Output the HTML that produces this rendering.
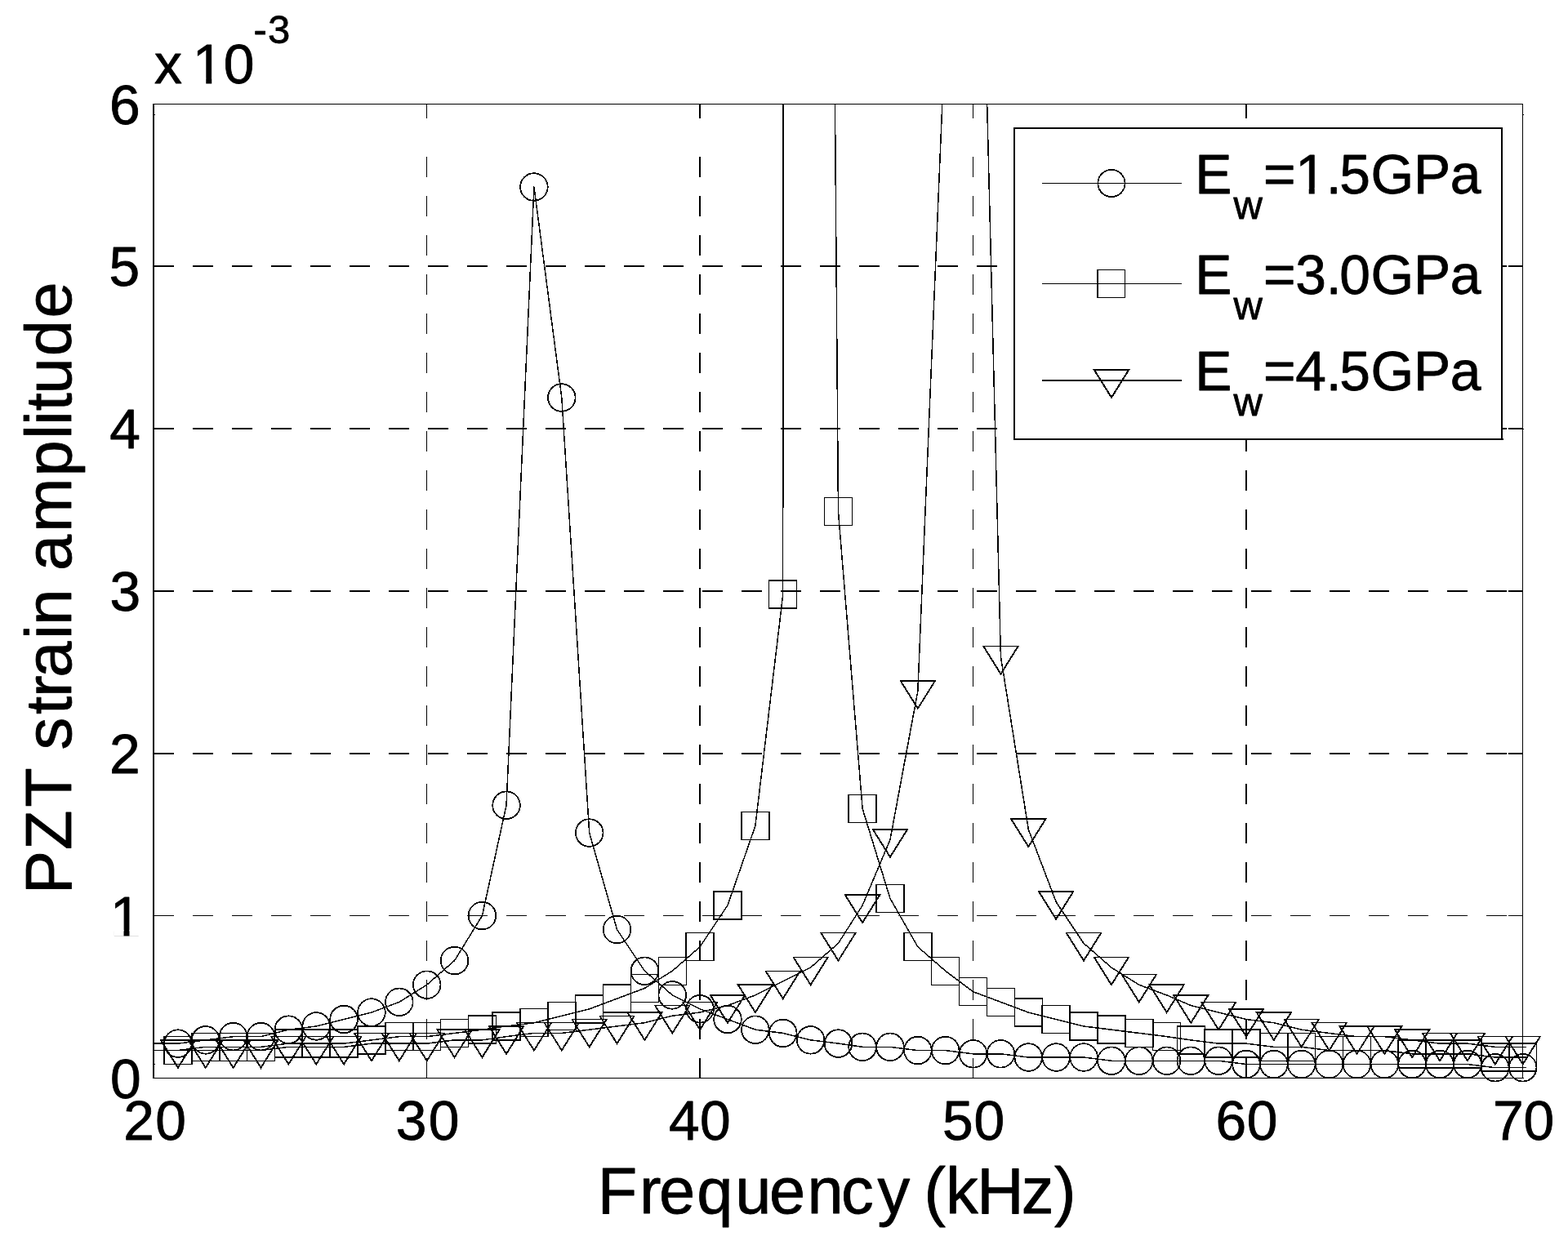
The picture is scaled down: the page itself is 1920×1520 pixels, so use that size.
<!DOCTYPE html>
<html lang="en"><head><meta charset="utf-8"><title>PZT strain amplitude vs Frequency</title>
<style>html,body{margin:0;padding:0;background:#fff;}svg{display:block;}text{font-family:"Liberation Sans",sans-serif;fill:#000;}</style></head><body>
<svg width="1920" height="1520" viewBox="0 0 1920 1520">
<rect x="0" y="0" width="1920" height="1520" fill="#fff"/>
<defs><clipPath id="ax"><rect x="187" y="127" width="1682" height="1194"/></clipPath></defs>
<g fill="#000" stroke="none" shape-rendering="crispEdges">
<path d="M188 325h25v2h-25zM236 325h25v2h-25zM284 325h25v2h-25zM332 325h25v2h-25zM380 325h25v2h-25zM428 325h25v2h-25zM476 325h25v2h-25zM524 325h25v2h-25zM572 325h25v2h-25zM620 325h25v2h-25zM668 325h25v2h-25zM716 325h25v2h-25zM764 325h25v2h-25zM812 325h25v2h-25zM860 325h25v2h-25zM908 325h25v2h-25zM956 325h25v2h-25zM1004 325h25v2h-25zM1052 325h25v2h-25zM1100 325h25v2h-25zM1148 325h25v2h-25zM1196 325h25v2h-25zM1244 325h25v2h-25zM1292 325h25v2h-25zM1340 325h25v2h-25zM1388 325h25v2h-25zM1436 325h25v2h-25zM1484 325h25v2h-25zM1532 325h25v2h-25zM1580 325h25v2h-25zM1628 325h25v2h-25zM1676 325h25v2h-25zM1724 325h25v2h-25zM1772 325h25v2h-25zM1820 325h25v2h-25zM1847 325h18v2h-18z"/>
<path d="M188 524h25v2h-25zM236 524h25v2h-25zM284 524h25v2h-25zM332 524h25v2h-25zM380 524h25v2h-25zM428 524h25v2h-25zM476 524h25v2h-25zM524 524h25v2h-25zM572 524h25v2h-25zM620 524h25v2h-25zM668 524h25v2h-25zM716 524h25v2h-25zM764 524h25v2h-25zM812 524h25v2h-25zM860 524h25v2h-25zM908 524h25v2h-25zM956 524h25v2h-25zM1004 524h25v2h-25zM1052 524h25v2h-25zM1100 524h25v2h-25zM1148 524h25v2h-25zM1196 524h25v2h-25zM1244 524h25v2h-25zM1292 524h25v2h-25zM1340 524h25v2h-25zM1388 524h25v2h-25zM1436 524h25v2h-25zM1484 524h25v2h-25zM1532 524h25v2h-25zM1580 524h25v2h-25zM1628 524h25v2h-25zM1676 524h25v2h-25zM1724 524h25v2h-25zM1772 524h25v2h-25zM1820 524h25v2h-25zM1847 524h18v2h-18z"/>
<path d="M188 723h25v2h-25zM236 723h25v2h-25zM284 723h25v2h-25zM332 723h25v2h-25zM380 723h25v2h-25zM428 723h25v2h-25zM476 723h25v2h-25zM524 723h25v2h-25zM572 723h25v2h-25zM620 723h25v2h-25zM668 723h25v2h-25zM716 723h25v2h-25zM764 723h25v2h-25zM812 723h25v2h-25zM860 723h25v2h-25zM908 723h25v2h-25zM956 723h25v2h-25zM1004 723h25v2h-25zM1052 723h25v2h-25zM1100 723h25v2h-25zM1148 723h25v2h-25zM1196 723h25v2h-25zM1244 723h25v2h-25zM1292 723h25v2h-25zM1340 723h25v2h-25zM1388 723h25v2h-25zM1436 723h25v2h-25zM1484 723h25v2h-25zM1532 723h25v2h-25zM1580 723h25v2h-25zM1628 723h25v2h-25zM1676 723h25v2h-25zM1724 723h25v2h-25zM1772 723h25v2h-25zM1820 723h25v2h-25zM1847 723h18v2h-18z"/>
<path d="M188 922h25v2h-25zM236 922h25v2h-25zM284 922h25v2h-25zM332 922h25v2h-25zM380 922h25v2h-25zM428 922h25v2h-25zM476 922h25v2h-25zM524 922h25v2h-25zM572 922h25v2h-25zM620 922h25v2h-25zM668 922h25v2h-25zM716 922h25v2h-25zM764 922h25v2h-25zM812 922h25v2h-25zM860 922h25v2h-25zM908 922h25v2h-25zM956 922h25v2h-25zM1004 922h25v2h-25zM1052 922h25v2h-25zM1100 922h25v2h-25zM1148 922h25v2h-25zM1196 922h25v2h-25zM1244 922h25v2h-25zM1292 922h25v2h-25zM1340 922h25v2h-25zM1388 922h25v2h-25zM1436 922h25v2h-25zM1484 922h25v2h-25zM1532 922h25v2h-25zM1580 922h25v2h-25zM1628 922h25v2h-25zM1676 922h25v2h-25zM1724 922h25v2h-25zM1772 922h25v2h-25zM1820 922h25v2h-25zM1847 922h18v2h-18z"/>
<path d="M188 1121h25v1h-25zM236 1121h25v1h-25zM284 1121h25v1h-25zM332 1121h25v1h-25zM380 1121h25v1h-25zM428 1121h25v1h-25zM476 1121h25v1h-25zM524 1121h25v1h-25zM572 1121h25v1h-25zM620 1121h25v1h-25zM668 1121h25v1h-25zM716 1121h25v1h-25zM764 1121h25v1h-25zM812 1121h25v1h-25zM860 1121h25v1h-25zM908 1121h25v1h-25zM956 1121h25v1h-25zM1004 1121h25v1h-25zM1052 1121h25v1h-25zM1100 1121h25v1h-25zM1148 1121h25v1h-25zM1196 1121h25v1h-25zM1244 1121h25v1h-25zM1292 1121h25v1h-25zM1340 1121h25v1h-25zM1388 1121h25v1h-25zM1436 1121h25v1h-25zM1484 1121h25v1h-25zM1532 1121h25v1h-25zM1580 1121h25v1h-25zM1628 1121h25v1h-25zM1676 1121h25v1h-25zM1724 1121h25v1h-25zM1772 1121h25v1h-25zM1820 1121h25v1h-25zM1847 1121h18v1h-18z"/>
<path d="M522 1296h1v25h-1zM522 1248h1v25h-1zM522 1200h1v25h-1zM522 1152h1v25h-1zM522 1104h1v25h-1zM522 1056h1v25h-1zM522 1008h1v25h-1zM522 960h1v25h-1zM522 912h1v25h-1zM522 864h1v25h-1zM522 816h1v25h-1zM522 768h1v25h-1zM522 720h1v25h-1zM522 672h1v25h-1zM522 624h1v25h-1zM522 576h1v25h-1zM522 528h1v25h-1zM522 480h1v25h-1zM522 432h1v25h-1zM522 384h1v25h-1zM522 336h1v25h-1zM522 288h1v25h-1zM522 240h1v25h-1zM522 192h1v25h-1zM522 127h1v18h-1z"/>
<path d="M856 1296h2v25h-2zM856 1248h2v25h-2zM856 1200h2v25h-2zM856 1152h2v25h-2zM856 1104h2v25h-2zM856 1056h2v25h-2zM856 1008h2v25h-2zM856 960h2v25h-2zM856 912h2v25h-2zM856 864h2v25h-2zM856 816h2v25h-2zM856 768h2v25h-2zM856 720h2v25h-2zM856 672h2v25h-2zM856 624h2v25h-2zM856 576h2v25h-2zM856 528h2v25h-2zM856 480h2v25h-2zM856 432h2v25h-2zM856 384h2v25h-2zM856 336h2v25h-2zM856 288h2v25h-2zM856 240h2v25h-2zM856 192h2v25h-2zM856 127h2v18h-2z"/>
<path d="M1191 1296h1v25h-1zM1191 1248h1v25h-1zM1191 1200h1v25h-1zM1191 1152h1v25h-1zM1191 1104h1v25h-1zM1191 1056h1v25h-1zM1191 1008h1v25h-1zM1191 960h1v25h-1zM1191 912h1v25h-1zM1191 864h1v25h-1zM1191 816h1v25h-1zM1191 768h1v25h-1zM1191 720h1v25h-1zM1191 672h1v25h-1zM1191 624h1v25h-1zM1191 576h1v25h-1zM1191 528h1v25h-1zM1191 480h1v25h-1zM1191 432h1v25h-1zM1191 384h1v25h-1zM1191 336h1v25h-1zM1191 288h1v25h-1zM1191 240h1v25h-1zM1191 192h1v25h-1zM1191 127h1v18h-1z"/>
<path d="M1525 1296h2v25h-2zM1525 1248h2v25h-2zM1525 1200h2v25h-2zM1525 1152h2v25h-2zM1525 1104h2v25h-2zM1525 1056h2v25h-2zM1525 1008h2v25h-2zM1525 960h2v25h-2zM1525 912h2v25h-2zM1525 864h2v25h-2zM1525 816h2v25h-2zM1525 768h2v25h-2zM1525 720h2v25h-2zM1525 672h2v25h-2zM1525 624h2v25h-2zM1525 576h2v25h-2zM1525 528h2v25h-2zM1525 480h2v25h-2zM1525 432h2v25h-2zM1525 384h2v25h-2zM1525 336h2v25h-2zM1525 288h2v25h-2zM1525 240h2v25h-2zM1525 192h2v25h-2zM1525 127h2v18h-2z"/>
<path d="M187 127h2v1194h-2zM187 127h1678v1h-1678zM1864 127h1v1194h-1zM187 1320h1679v1h-1679zM189 140h1v1h-1zM1865 525h1v1h-1zM189 1303h1v1h-1zM1865 140h1v1h-1z"/>
</g>
<g fill="none" stroke="#000" stroke-width="1.5" shape-rendering="crispEdges">
<g clip-path="url(#ax)" stroke-linejoin="round">
<path d="M184.03 1278.10L217.90 1278.10L251.76 1273.87L285.63 1269.64L319.50 1269.64L353.36 1261.18L387.23 1256.95L421.10 1248.49L454.96 1240.03L488.83 1227.34L522.70 1206.19L556.56 1176.58L590.43 1121.58L620.06 986.22L653.93 229.01L687.80 487.05L721.66 1020.06L755.53 1138.50L789.40 1189.27L823.26 1218.88L857.13 1235.80L891.00 1248.49L924.86 1261.18L958.73 1265.41L992.60 1273.87L1026.46 1278.10L1056.10 1282.33L1089.96 1282.33L1123.83 1286.56L1157.70 1286.56L1191.56 1290.79L1225.43 1290.79L1259.30 1295.02L1293.16 1295.02L1327.03 1295.02L1360.90 1299.25L1394.76 1299.25L1428.63 1299.25L1458.26 1299.25L1492.13 1299.25L1526.00 1303.48L1559.86 1303.48L1593.73 1303.48L1627.60 1303.48L1661.46 1303.48L1695.33 1303.48L1729.20 1303.48L1763.06 1303.48L1796.93 1303.48L1830.80 1307.71L1864.66 1307.71L1869.00 1307.71"/>
<path d="M184.03 1286.56L217.90 1286.56L251.76 1282.33L285.63 1282.33L319.50 1282.33L353.36 1278.10L387.23 1278.10L421.10 1278.10L454.96 1273.87L488.83 1269.64L522.70 1269.64L556.56 1265.41L590.43 1261.18L620.06 1256.95L653.93 1252.72L687.80 1244.26L721.66 1235.80L755.53 1223.11L789.40 1210.42L823.26 1189.27L857.13 1159.65L891.00 1108.89L924.86 1011.60L958.73 728.17L959.00 120.00"/>
<path d="M1022.40 120.00L1026.46 626.65L1056.10 990.45L1089.96 1100.43L1123.83 1159.65L1157.70 1189.27L1191.56 1214.65L1225.43 1227.34L1259.30 1240.03L1293.16 1248.49L1327.03 1256.95L1360.90 1261.18L1394.76 1265.41L1428.63 1269.64L1458.26 1273.87L1492.13 1278.10L1526.00 1278.10L1559.86 1282.33L1593.73 1282.33L1627.60 1286.56L1661.46 1286.56L1695.33 1286.56L1729.20 1290.79L1763.06 1290.79L1796.93 1290.79L1830.80 1295.02L1864.66 1295.02L1869.00 1295.02"/>
<path d="M184.03 1286.56L217.90 1286.56L251.76 1286.56L285.63 1286.56L319.50 1286.56L353.36 1282.33L387.23 1282.33L421.10 1282.33L454.96 1278.10L488.83 1278.10L522.70 1278.10L556.56 1273.87L590.43 1273.87L620.06 1269.64L653.93 1265.41L687.80 1265.41L721.66 1261.18L755.53 1256.95L789.40 1252.72L823.26 1244.26L857.13 1240.03L891.00 1231.57L924.86 1218.88L958.73 1201.96L992.60 1185.04L1026.46 1155.42L1056.10 1108.89L1089.96 1028.52L1123.83 846.62L1154.10 120.00"/>
<path d="M1208.50 120.00L1225.43 804.32L1259.30 1015.83L1293.16 1104.66L1327.03 1155.42L1360.90 1185.04L1394.76 1206.19L1428.63 1218.88L1458.26 1231.57L1492.13 1240.03L1526.00 1248.49L1559.86 1252.72L1593.73 1261.18L1627.60 1265.41L1661.46 1269.64L1695.33 1269.64L1729.20 1273.87L1763.06 1278.10L1796.93 1278.10L1830.80 1282.33L1864.66 1282.33L1869.00 1282.33"/>
</g>
<g stroke-width="1.8">
<circle cx="217.90" cy="1278.10" r="16.8"/>
<circle cx="251.76" cy="1273.87" r="16.8"/>
<circle cx="285.63" cy="1269.64" r="16.8"/>
<circle cx="319.50" cy="1269.64" r="16.8"/>
<circle cx="353.36" cy="1261.18" r="16.8"/>
<circle cx="387.23" cy="1256.95" r="16.8"/>
<circle cx="421.10" cy="1248.49" r="16.8"/>
<circle cx="454.96" cy="1240.03" r="16.8"/>
<circle cx="488.83" cy="1227.34" r="16.8"/>
<circle cx="522.70" cy="1206.19" r="16.8"/>
<circle cx="556.56" cy="1176.58" r="16.8"/>
<circle cx="590.43" cy="1121.58" r="16.8"/>
<circle cx="620.06" cy="986.22" r="16.8"/>
<circle cx="653.93" cy="229.01" r="16.8"/>
<circle cx="687.80" cy="487.05" r="16.8"/>
<circle cx="721.66" cy="1020.06" r="16.8"/>
<circle cx="755.53" cy="1138.50" r="16.8"/>
<circle cx="789.40" cy="1189.27" r="16.8"/>
<circle cx="823.26" cy="1218.88" r="16.8"/>
<circle cx="857.13" cy="1235.80" r="16.8"/>
<circle cx="891.00" cy="1248.49" r="16.8"/>
<circle cx="924.86" cy="1261.18" r="16.8"/>
<circle cx="958.73" cy="1265.41" r="16.8"/>
<circle cx="992.60" cy="1273.87" r="16.8"/>
<circle cx="1026.46" cy="1278.10" r="16.8"/>
<circle cx="1056.10" cy="1282.33" r="16.8"/>
<circle cx="1089.96" cy="1282.33" r="16.8"/>
<circle cx="1123.83" cy="1286.56" r="16.8"/>
<circle cx="1157.70" cy="1286.56" r="16.8"/>
<circle cx="1191.56" cy="1290.79" r="16.8"/>
<circle cx="1225.43" cy="1290.79" r="16.8"/>
<circle cx="1259.30" cy="1295.02" r="16.8"/>
<circle cx="1293.16" cy="1295.02" r="16.8"/>
<circle cx="1327.03" cy="1295.02" r="16.8"/>
<circle cx="1360.90" cy="1299.25" r="16.8"/>
<circle cx="1394.76" cy="1299.25" r="16.8"/>
<circle cx="1428.63" cy="1299.25" r="16.8"/>
<circle cx="1458.26" cy="1299.25" r="16.8"/>
<circle cx="1492.13" cy="1299.25" r="16.8"/>
<circle cx="1526.00" cy="1303.48" r="16.8"/>
<circle cx="1559.86" cy="1303.48" r="16.8"/>
<circle cx="1593.73" cy="1303.48" r="16.8"/>
<circle cx="1627.60" cy="1303.48" r="16.8"/>
<circle cx="1661.46" cy="1303.48" r="16.8"/>
<circle cx="1695.33" cy="1303.48" r="16.8"/>
<circle cx="1729.20" cy="1303.48" r="16.8"/>
<circle cx="1763.06" cy="1303.48" r="16.8"/>
<circle cx="1796.93" cy="1303.48" r="16.8"/>
<circle cx="1830.80" cy="1307.71" r="16.8"/>
<circle cx="1864.66" cy="1307.71" r="16.8"/>
</g><g>
<rect x="200.90" y="1269.56" width="34.00" height="34.00"/>
<rect x="234.76" y="1265.33" width="34.00" height="34.00"/>
<rect x="268.63" y="1265.33" width="34.00" height="34.00"/>
<rect x="302.50" y="1265.33" width="34.00" height="34.00"/>
<rect x="336.36" y="1261.10" width="34.00" height="34.00"/>
<rect x="370.23" y="1261.10" width="34.00" height="34.00"/>
<rect x="404.10" y="1261.10" width="34.00" height="34.00"/>
<rect x="437.96" y="1256.87" width="34.00" height="34.00"/>
<rect x="471.83" y="1252.64" width="34.00" height="34.00"/>
<rect x="505.70" y="1252.64" width="34.00" height="34.00"/>
<rect x="539.56" y="1248.41" width="34.00" height="34.00"/>
<rect x="573.43" y="1244.18" width="34.00" height="34.00"/>
<rect x="603.06" y="1239.95" width="34.00" height="34.00"/>
<rect x="636.93" y="1235.72" width="34.00" height="34.00"/>
<rect x="670.80" y="1227.26" width="34.00" height="34.00"/>
<rect x="704.66" y="1218.80" width="34.00" height="34.00"/>
<rect x="738.53" y="1206.11" width="34.00" height="34.00"/>
<rect x="772.40" y="1193.42" width="34.00" height="34.00"/>
<rect x="806.26" y="1172.27" width="34.00" height="34.00"/>
<rect x="840.13" y="1142.65" width="34.00" height="34.00"/>
<rect x="874.00" y="1091.89" width="34.00" height="34.00"/>
<rect x="907.86" y="994.60" width="34.00" height="34.00"/>
<rect x="941.73" y="711.17" width="34.00" height="34.00"/>
<rect x="1009.46" y="609.65" width="34.00" height="34.00"/>
<rect x="1039.10" y="973.45" width="34.00" height="34.00"/>
<rect x="1072.96" y="1083.43" width="34.00" height="34.00"/>
<rect x="1106.83" y="1142.65" width="34.00" height="34.00"/>
<rect x="1140.70" y="1172.27" width="34.00" height="34.00"/>
<rect x="1174.56" y="1197.65" width="34.00" height="34.00"/>
<rect x="1208.43" y="1210.34" width="34.00" height="34.00"/>
<rect x="1242.30" y="1223.03" width="34.00" height="34.00"/>
<rect x="1276.16" y="1231.49" width="34.00" height="34.00"/>
<rect x="1310.03" y="1239.95" width="34.00" height="34.00"/>
<rect x="1343.90" y="1244.18" width="34.00" height="34.00"/>
<rect x="1377.76" y="1248.41" width="34.00" height="34.00"/>
<rect x="1411.63" y="1252.64" width="34.00" height="34.00"/>
<rect x="1441.26" y="1256.87" width="34.00" height="34.00"/>
<rect x="1475.13" y="1261.10" width="34.00" height="34.00"/>
<rect x="1509.00" y="1261.10" width="34.00" height="34.00"/>
<rect x="1542.86" y="1265.33" width="34.00" height="34.00"/>
<rect x="1576.73" y="1265.33" width="34.00" height="34.00"/>
<rect x="1610.60" y="1269.56" width="34.00" height="34.00"/>
<rect x="1644.46" y="1269.56" width="34.00" height="34.00"/>
<rect x="1678.33" y="1269.56" width="34.00" height="34.00"/>
<rect x="1712.20" y="1273.79" width="34.00" height="34.00"/>
<rect x="1746.06" y="1273.79" width="34.00" height="34.00"/>
<rect x="1779.93" y="1273.79" width="34.00" height="34.00"/>
<rect x="1813.80" y="1278.02" width="34.00" height="34.00"/>
<rect x="1847.66" y="1278.02" width="34.00" height="34.00"/>
</g><g stroke-linejoin="miter" stroke-miterlimit="10">
<path d="M196.73 1273.86H239.06L217.90 1307.73Z"/>
<path d="M196.73 1273.86L217.90 1307.73L239.06 1273.86" stroke-width="1.9"/>
<path d="M230.60 1273.86H272.93L251.76 1307.73Z"/>
<path d="M230.60 1273.86L251.76 1307.73L272.93 1273.86" stroke-width="1.9"/>
<path d="M264.46 1273.86H306.80L285.63 1307.73Z"/>
<path d="M264.46 1273.86L285.63 1307.73L306.80 1273.86" stroke-width="1.9"/>
<path d="M298.33 1273.86H340.66L319.50 1307.73Z"/>
<path d="M298.33 1273.86L319.50 1307.73L340.66 1273.86" stroke-width="1.9"/>
<path d="M332.20 1269.63H374.53L353.36 1303.50Z"/>
<path d="M332.20 1269.63L353.36 1303.50L374.53 1269.63" stroke-width="1.9"/>
<path d="M366.06 1269.63H408.40L387.23 1303.50Z"/>
<path d="M366.06 1269.63L387.23 1303.50L408.40 1269.63" stroke-width="1.9"/>
<path d="M399.93 1269.63H442.26L421.10 1303.50Z"/>
<path d="M399.93 1269.63L421.10 1303.50L442.26 1269.63" stroke-width="1.9"/>
<path d="M433.80 1265.40H476.13L454.96 1299.27Z"/>
<path d="M433.80 1265.40L454.96 1299.27L476.13 1265.40" stroke-width="1.9"/>
<path d="M467.66 1265.40H510.00L488.83 1299.27Z"/>
<path d="M467.66 1265.40L488.83 1299.27L510.00 1265.40" stroke-width="1.9"/>
<path d="M501.53 1265.40H543.86L522.70 1299.27Z"/>
<path d="M501.53 1265.40L522.70 1299.27L543.86 1265.40" stroke-width="1.9"/>
<path d="M535.40 1261.17H577.73L556.56 1295.04Z"/>
<path d="M535.40 1261.17L556.56 1295.04L577.73 1261.17" stroke-width="1.9"/>
<path d="M569.26 1261.17H611.60L590.43 1295.04Z"/>
<path d="M569.26 1261.17L590.43 1295.04L611.60 1261.17" stroke-width="1.9"/>
<path d="M598.90 1256.94H641.23L620.06 1290.81Z"/>
<path d="M598.90 1256.94L620.06 1290.81L641.23 1256.94" stroke-width="1.9"/>
<path d="M632.76 1252.71H675.10L653.93 1286.58Z"/>
<path d="M632.76 1252.71L653.93 1286.58L675.10 1252.71" stroke-width="1.9"/>
<path d="M666.63 1252.71H708.96L687.80 1286.58Z"/>
<path d="M666.63 1252.71L687.80 1286.58L708.96 1252.71" stroke-width="1.9"/>
<path d="M700.50 1248.48H742.83L721.66 1282.35Z"/>
<path d="M700.50 1248.48L721.66 1282.35L742.83 1248.48" stroke-width="1.9"/>
<path d="M734.36 1244.25H776.70L755.53 1278.12Z"/>
<path d="M734.36 1244.25L755.53 1278.12L776.70 1244.25" stroke-width="1.9"/>
<path d="M768.23 1240.02H810.56L789.40 1273.89Z"/>
<path d="M768.23 1240.02L789.40 1273.89L810.56 1240.02" stroke-width="1.9"/>
<path d="M802.10 1231.56H844.43L823.26 1265.43Z"/>
<path d="M802.10 1231.56L823.26 1265.43L844.43 1231.56" stroke-width="1.9"/>
<path d="M835.96 1227.33H878.30L857.13 1261.20Z"/>
<path d="M835.96 1227.33L857.13 1261.20L878.30 1227.33" stroke-width="1.9"/>
<path d="M869.83 1218.87H912.16L891.00 1252.73Z"/>
<path d="M869.83 1218.87L891.00 1252.73L912.16 1218.87" stroke-width="1.9"/>
<path d="M903.70 1206.18H946.03L924.86 1240.04Z"/>
<path d="M903.70 1206.18L924.86 1240.04L946.03 1206.18" stroke-width="1.9"/>
<path d="M937.56 1189.26H979.90L958.73 1223.12Z"/>
<path d="M937.56 1189.26L958.73 1223.12L979.90 1189.26" stroke-width="1.9"/>
<path d="M971.43 1172.34H1013.76L992.60 1206.20Z"/>
<path d="M971.43 1172.34L992.60 1206.20L1013.76 1172.34" stroke-width="1.9"/>
<path d="M1005.30 1142.72H1047.63L1026.46 1176.59Z"/>
<path d="M1005.30 1142.72L1026.46 1176.59L1047.63 1142.72" stroke-width="1.9"/>
<path d="M1034.93 1096.19H1077.26L1056.10 1130.06Z"/>
<path d="M1034.93 1096.19L1056.10 1130.06L1077.26 1096.19" stroke-width="1.9"/>
<path d="M1068.80 1015.82H1111.13L1089.96 1049.69Z"/>
<path d="M1068.80 1015.82L1089.96 1049.69L1111.13 1015.82" stroke-width="1.9"/>
<path d="M1102.66 833.92H1145.00L1123.83 867.79Z"/>
<path d="M1102.66 833.92L1123.83 867.79L1145.00 833.92" stroke-width="1.9"/>
<path d="M1204.26 791.62H1246.60L1225.43 825.48Z"/>
<path d="M1204.26 791.62L1225.43 825.48L1246.60 791.62" stroke-width="1.9"/>
<path d="M1238.13 1003.13H1280.46L1259.30 1036.99Z"/>
<path d="M1238.13 1003.13L1259.30 1036.99L1280.46 1003.13" stroke-width="1.9"/>
<path d="M1272.00 1091.96H1314.33L1293.16 1125.83Z"/>
<path d="M1272.00 1091.96L1293.16 1125.83L1314.33 1091.96" stroke-width="1.9"/>
<path d="M1305.86 1142.72H1348.20L1327.03 1176.59Z"/>
<path d="M1305.86 1142.72L1327.03 1176.59L1348.20 1142.72" stroke-width="1.9"/>
<path d="M1339.73 1172.34H1382.06L1360.90 1206.20Z"/>
<path d="M1339.73 1172.34L1360.90 1206.20L1382.06 1172.34" stroke-width="1.9"/>
<path d="M1373.60 1193.49H1415.93L1394.76 1227.35Z"/>
<path d="M1373.60 1193.49L1394.76 1227.35L1415.93 1193.49" stroke-width="1.9"/>
<path d="M1407.46 1206.18H1449.80L1428.63 1240.04Z"/>
<path d="M1407.46 1206.18L1428.63 1240.04L1449.80 1206.18" stroke-width="1.9"/>
<path d="M1437.10 1218.87H1479.43L1458.26 1252.73Z"/>
<path d="M1437.10 1218.87L1458.26 1252.73L1479.43 1218.87" stroke-width="1.9"/>
<path d="M1470.96 1227.33H1513.30L1492.13 1261.20Z"/>
<path d="M1470.96 1227.33L1492.13 1261.20L1513.30 1227.33" stroke-width="1.9"/>
<path d="M1504.83 1235.79H1547.16L1526.00 1269.66Z"/>
<path d="M1504.83 1235.79L1526.00 1269.66L1547.16 1235.79" stroke-width="1.9"/>
<path d="M1538.70 1240.02H1581.03L1559.86 1273.89Z"/>
<path d="M1538.70 1240.02L1559.86 1273.89L1581.03 1240.02" stroke-width="1.9"/>
<path d="M1572.56 1248.48H1614.90L1593.73 1282.35Z"/>
<path d="M1572.56 1248.48L1593.73 1282.35L1614.90 1248.48" stroke-width="1.9"/>
<path d="M1606.43 1252.71H1648.76L1627.60 1286.58Z"/>
<path d="M1606.43 1252.71L1627.60 1286.58L1648.76 1252.71" stroke-width="1.9"/>
<path d="M1640.30 1256.94H1682.63L1661.46 1290.81Z"/>
<path d="M1640.30 1256.94L1661.46 1290.81L1682.63 1256.94" stroke-width="1.9"/>
<path d="M1674.16 1256.94H1716.50L1695.33 1290.81Z"/>
<path d="M1674.16 1256.94L1695.33 1290.81L1716.50 1256.94" stroke-width="1.9"/>
<path d="M1708.03 1261.17H1750.36L1729.20 1295.04Z"/>
<path d="M1708.03 1261.17L1729.20 1295.04L1750.36 1261.17" stroke-width="1.9"/>
<path d="M1741.90 1265.40H1784.23L1763.06 1299.27Z"/>
<path d="M1741.90 1265.40L1763.06 1299.27L1784.23 1265.40" stroke-width="1.9"/>
<path d="M1775.76 1265.40H1818.10L1796.93 1299.27Z"/>
<path d="M1775.76 1265.40L1796.93 1299.27L1818.10 1265.40" stroke-width="1.9"/>
<path d="M1809.63 1269.63H1851.96L1830.80 1303.50Z"/>
<path d="M1809.63 1269.63L1830.80 1303.50L1851.96 1269.63" stroke-width="1.9"/>
<path d="M1843.50 1269.63H1885.83L1864.66 1303.50Z"/>
<path d="M1843.50 1269.63L1864.66 1303.50L1885.83 1269.63" stroke-width="1.9"/>
</g>
<rect x="1242" y="157" width="597" height="381" fill="#fff" stroke-width="2"/>
<path d="M1840 537h1v2h-1z" fill="#000" stroke="none"/>
<path d="M1276 224.5H1447" stroke-width="1"/>
<path d="M1276 347.5H1447" stroke-width="1"/>
<path d="M1276 466H1447" stroke-width="2"/>
<circle cx="1361" cy="224.5" r="16.6" stroke-width="1.8"/>
<path d="M1343.95 330.5H1377.5V364.5H1343.95Z"/>
<path d="M1339.83 453.00H1382.17L1361.00 486.87Z" stroke-linejoin="miter" stroke-miterlimit="10" stroke-width="2"/>
</g>
<g stroke="#000" stroke-width="0.8" stroke-linejoin="round">
<text x="134.1" y="152.2" font-size="67.73">6</text>
<text x="133.6" y="350.2" font-size="67.73">5</text>
<text x="134.2" y="549.2" font-size="67.73">4</text>
<text x="134.5" y="748.2" font-size="67.73">3</text>
<text x="134.0" y="947.2" font-size="67.73">2</text>
<text x="135.0" y="1145.7" font-size="67.73">1</text>
<text x="134.9" y="1344.7" font-size="67.73">0</text>
<text x="151.3 190.2" y="1395.9" font-size="67.73">20</text>
<text x="484.7 524.8" y="1395.9" font-size="67.73">30</text>
<text x="818.9 857.0" y="1395.9" font-size="67.73">40</text>
<text x="1154.1 1192.6" y="1395.9" font-size="67.73">50</text>
<text x="1488.5 1526.8" y="1395.9" font-size="67.73">60</text>
<text x="1828.0 1865.6" y="1395.9" font-size="67.73">70</text>
<text x="189.1 225.0 235.7 273.7" y="102.4" font-size="67.73">x 10</text>
<text x="310.6 328.0" y="52.8" font-size="49.0">-3</text>
<text x="1463.2" y="236.9" font-size="67.73">E</text>
<text x="1510.6" y="267.7" font-size="49.0">w</text>
<text x="1547.0 1586.2 1623.8 1640.2 1678.5 1730.9 1775.7" y="236.9" font-size="67.73">=1.5GPa</text>
<text x="1463.2" y="359.7" font-size="67.73">E</text>
<text x="1510.6" y="390.5" font-size="49.0">w</text>
<text x="1547.0 1586.2 1623.8 1640.2 1678.5 1730.9 1775.7" y="359.7" font-size="67.73">=3.0GPa</text>
<text x="1463.2" y="478.4" font-size="67.73">E</text>
<text x="1510.6" y="509.2" font-size="49.0">w</text>
<text x="1547.0 1586.2 1623.8 1640.2 1678.5 1730.9 1775.7" y="478.4" font-size="67.73">=4.5GPa</text>
<text x="731.8 782.9 807.0 853.3 900.2 942.0 988.4 1030.0 1074.4 1114.1 1131.5 1158.0 1196.3 1250.8 1291.0" y="1486.2" font-size="79.4">Frequency (kHz)</text>
<text x="5.1 59.0 111.2 151.2 181.5 224.9 246.3 270.2 317.0 334.2 374.2 401.0 448.2 516.4 562.2 579.0 596.7 617.6 663.8 710.5" y="0.0" font-size="79.4" transform="translate(86.6 1100.0) rotate(-90)">PZT strain amplitude</text>
</g>
<path d="M139.14 1138.94H151.52V1146.70H139.14ZM158.50 1138.94H170.34V1146.70H158.50ZM239.89 95.64H252.27V103.40H239.89ZM259.25 95.64H271.09V103.40H259.25ZM1590.36 230.14H1602.73V237.90H1590.36ZM1609.72 230.14H1621.56V237.90H1609.72Z" fill="#fff"/>
</svg></body></html>
